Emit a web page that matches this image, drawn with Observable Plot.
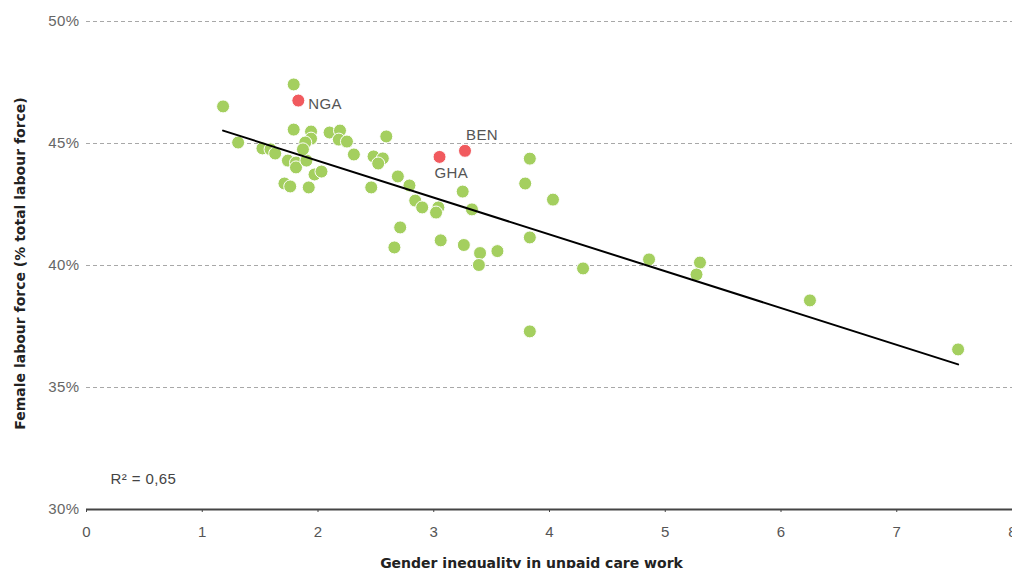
<!DOCTYPE html>
<html>
<head>
<meta charset="utf-8">
<script src="https://cdn.jsdelivr.net/npm/d3@7"></script>
<script src="https://cdn.jsdelivr.net/npm/@observablehq/plot@0.6"></script>
<style>
  html, body { margin: 0; padding: 0; background: #fff; }
  svg { display: block; }
  g[font-family*="DejaVu"], g[font-family*="DejaVu"] text { letter-spacing: 0; }
</style>
</head>
<body>
<div id="chart"></div>
<script>
// Gender inequality in unpaid care work (x) vs female share of labour force (%, y)
const careX = [1.18, 1.31, 1.79, 1.52, 1.59, 1.63, 1.74, 1.81, 1.81, 1.90,
               1.79, 1.94, 1.94, 1.89, 1.87, 1.71, 1.76, 1.92, 1.97, 2.03,
               2.10, 2.19, 2.18, 2.25, 2.31, 2.48, 2.56, 2.52, 2.59, 2.46,
               2.69, 2.79, 2.84, 2.90, 3.04, 3.02, 2.71, 2.66, 3.06, 3.26,
               3.40, 3.39, 3.55, 3.33, 3.25, 3.79, 3.83, 4.03, 3.83, 4.29,
               3.83, 4.86, 5.30, 5.27, 6.25, 7.53];
const labourY = [46.52, 45.04, 47.42, 44.80, 44.76, 44.59, 44.30, 44.22, 44.02, 44.30,
                 45.57, 45.49, 45.20, 45.04, 44.76, 43.36, 43.24, 43.20, 43.73, 43.85,
                 45.45, 45.53, 45.16, 45.08, 44.55, 44.47, 44.39, 44.18, 45.29, 43.20,
                 43.65, 43.28, 42.66, 42.38, 42.38, 42.17, 41.56, 40.74, 41.03, 40.84,
                 40.51, 40.02, 40.59, 42.30, 43.03, 43.36, 44.38, 42.70, 41.15, 39.88,
                 37.30, 40.25, 40.12, 39.63, 38.57, 36.56];

// Highlighted countries
const hlNames = ["NGA", "GHA", "BEN"];
const hlX = [1.83, 3.05, 3.27];
const hlY = [46.76, 44.45, 44.70];

const xTicks = [0, 1, 2, 3, 4, 5, 6, 7, 8];
const yTicks = [30, 35, 40, 45, 50];
const yGrid = [35, 40, 45, 50];

const others = careX.map((x, i) => ({x, y: labourY[i]}));
const highlighted = hlNames.map((name, i) => ({name, x: hlX[i], y: hlY[i]}));

const labelOffsets = {NGA: {dx: 10, dy: 4}, GHA: {dx: -5, dy: 16}, BEN: {dx: 1, dy: -16}};

const green = "#a4cf5f";
const red = "#f15a5e";
const bodyFont = "'Liberation Sans', Helvetica, Arial, sans-serif";
const titleFont = "'DejaVu Sans', Verdana, sans-serif";

const chart = Plot.plot({
  width: 1012,
  height: 568,
  marginLeft: 86,
  marginRight: 0,
  marginTop: 21,
  marginBottom: 59,
  style: {fontFamily: bodyFont, fontSize: "15px", background: "#fff", letterSpacing: "0.4px"},
  x: {domain: [0, 8], ticks: xTicks},
  y: {domain: [30, 50], ticks: yTicks, tickFormat: d => d + "%"},
  marks: [
    Plot.ruleY(yGrid, {stroke: "#a8a8a8", strokeDasharray: "4,3", strokeWidth: 1}),
    Plot.ruleY([30], {stroke: "#444", strokeWidth: 2}),
    Plot.axisY({ticks: yTicks, tickSize: 0, tickPadding: 7, label: null, fill: "#666", tickFormat: d => d + "%", fontSize: 15}),
    Plot.axisX({ticks: xTicks, tickSize: 3, tickPadding: 14, label: null, fill: "#555", stroke: "#444", fontSize: 15}),
    Plot.text(["Female labour force (% total labour force)"], {frameAnchor: "left", textAnchor: "middle", lineAnchor: "middle",
      dx: -66, dy: -2, rotate: -90, fontWeight: "bold", fill: "#222", fontSize: 14, fontFamily: titleFont}),
    Plot.text(["Gender inequality in unpaid care work"], {frameAnchor: "bottom", textAnchor: "middle", lineAnchor: "middle",
      dx: -18, dy: 54, fontWeight: "bold", fill: "#222", fontSize: 14, fontFamily: titleFont}),
    Plot.text(["R² = 0,65"], {frameAnchor: "bottom-left", lineAnchor: "middle", dx: 24, dy: -30, textAnchor: "start", fill: "#444", fontSize: 15}),
    Plot.dot(others, {x: "x", y: "y", r: 6.5, fill: green, stroke: "white", strokeWidth: 1}),
    Plot.linearRegressionY(others, {x: "x", y: "y", stroke: "black", strokeWidth: 2, ci: 0}),
    Plot.dot(highlighted, {x: "x", y: "y", r: 6.5, fill: red, stroke: "white", strokeWidth: 1}),
    ...highlighted.map(d => Plot.text([d], {x: "x", y: "y", text: "name", textAnchor: "start",
      dx: labelOffsets[d.name].dx, dy: labelOffsets[d.name].dy, fill: "#555", fontSize: 15}))
  ]
});
document.getElementById("chart").appendChild(chart);
</script>
</body>
</html>
